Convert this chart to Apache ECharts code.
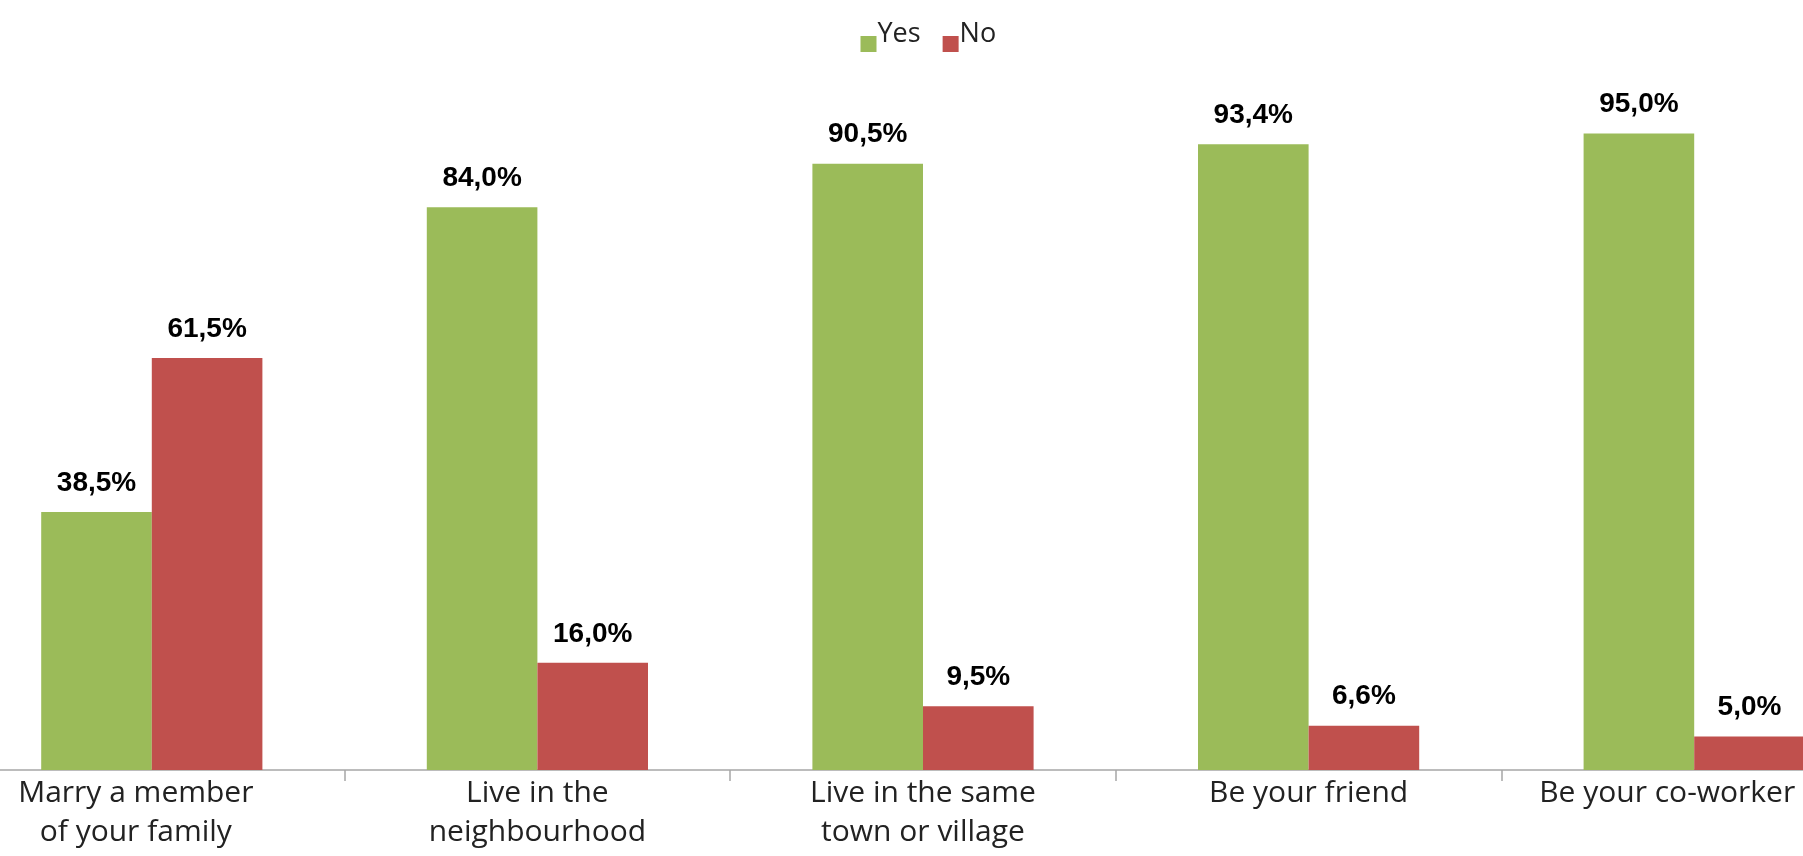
<!DOCTYPE html>
<html>
<head>
<meta charset="utf-8">
<script src="https://cdn.jsdelivr.net/npm/echarts@6/dist/echarts.min.js"></script>
<style>
html,body{margin:0;padding:0;background:#fff;overflow:hidden;width:1803px;height:856px;position:relative;}
#chart{width:1928px;height:856px;position:absolute;left:-41.5px;top:0;}
</style>
</head>
<body>
<div id="chart"></div>
<script>
const categories = ['Marry a member\nof your family', 'Live in the\nneighbourhood', 'Live in the same\ntown or village', 'Be your friend', 'Be your co-worker'];
const yesValues = [38.5, 84.0, 90.5, 93.4, 95.0];
const noValues = [61.5, 16.0, 9.5, 6.6, 5.0];
const seriesNames = ['Yes', 'No'];

const chart = echarts.init(document.getElementById('chart'), null, {renderer: 'canvas'});
const fmt = p => p.value.toFixed(1).replace('.', ',') + '%';
const labelStyle = {
  show: true, position: 'top', distance: 15, formatter: fmt,
  fontFamily: '"Liberation Sans", Arial, sans-serif', fontWeight: 'bold', fontSize: 28, color: '#000'
};
const iconPath = 'path://M0,0L0.01,0M0,20L16,20L16,36L0,36Z';
const labelShift = [32, 0, 0, 0, 54];
const xData = categories.map((c, i) => labelShift[i]
  ? {value: c, textStyle: {padding: [0, labelShift[i], 0, 0]}} : c);

chart.setOption({
  animation: false,
  backgroundColor: '#fff',
  legend: {
    left: 896.5, top: 11,
    itemWidth: 16, itemHeight: 36, itemGap: 22,
    textStyle: {fontFamily: '"Open Sans", sans-serif', fontSize: 27, color: '#222', padding: [0, 0, 0, -4]},
    data: [{name: 'Yes', icon: iconPath}, {name: 'No', icon: iconPath}]
  },
  grid: {left: 0, right: 0, top: 100, bottom: 86, containLabel: false},
  xAxis: {
    type: 'category', data: xData,
    axisLine: {lineStyle: {color: '#a6a6a6', width: 1.5}},
    axisTick: {show: true, length: 11, lineStyle: {color: '#a6a6a6', width: 1.5}},
    axisLabel: {
      interval: 0, margin: 4,
      fontFamily: '"Open Sans", sans-serif', fontSize: 30, lineHeight: 39, color: '#222'
    }
  },
  yAxis: {type: 'value', min: 0, max: 100, show: false, splitLine: {show: false}},
  series: [
    {name: seriesNames[0], type: 'bar', data: yesValues, barWidth: 110.6, barGap: '0%',
     itemStyle: {color: '#9BBB59'}, label: labelStyle},
    {name: seriesNames[1], type: 'bar', data: noValues, barWidth: 110.6, barGap: '0%',
     itemStyle: {color: '#C0504D'}, label: labelStyle}
  ]
});
</script>
</body>
</html>
